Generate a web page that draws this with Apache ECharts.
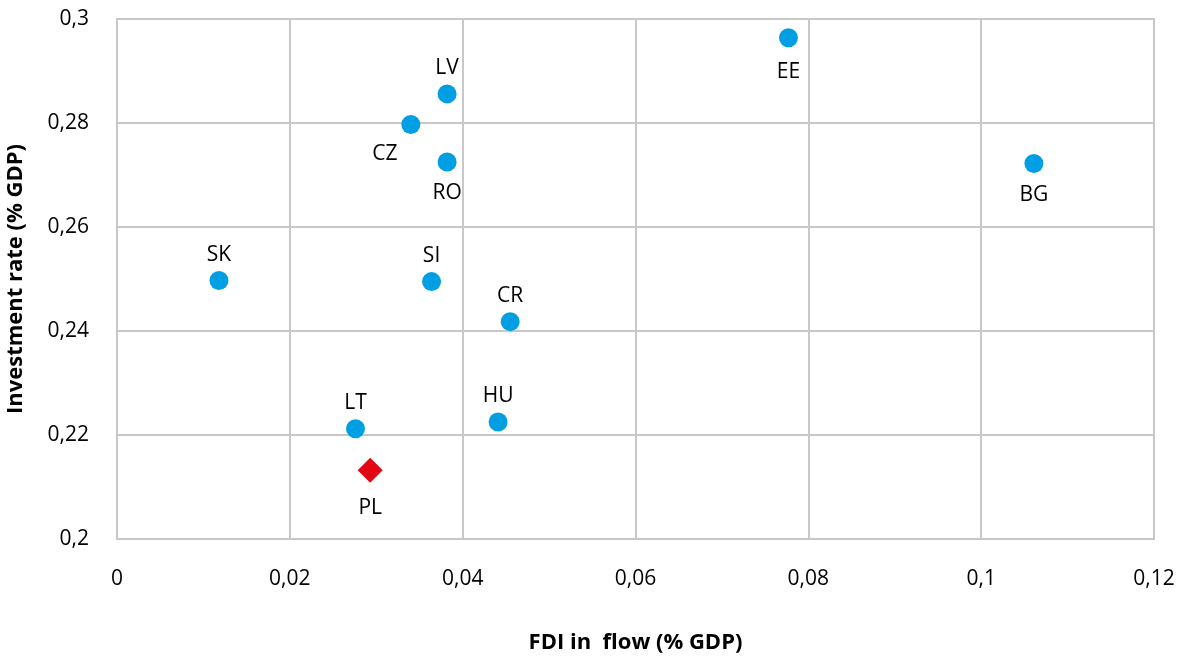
<!DOCTYPE html>
<html>
<head>
<meta charset="utf-8">
<script src="https://cdn.jsdelivr.net/npm/echarts@6/dist/echarts.min.js"></script>
<style>
html,body{margin:0;padding:0;background:#fff;}
#chart{width:1177px;height:658px;}
</style>
</head>
<body>
<div id="chart"></div>
<script>
var countries = ['EE','LV','CZ','RO','BG','SK','SI','CR','LT','HU'];
var fdiInflow = [0.0777,0.0382,0.0340,0.0382,0.1061,0.0118,0.0364,0.0455,0.0276,0.0441];
var investmentRate = [0.2964,0.2856,0.2797,0.2725,0.2722,0.2497,0.2495,0.2418,0.2212,0.2225];
var labelPositions = ['bottom','top','bottom','bottom','bottom','top','top','top','top','top'];
var plCountry = 'PL';
var plFdi = 0.0293;
var plInvestment = 0.2132;
var xTicks = [0,0.02,0.04,0.06,0.08,0.1,0.12];
var yTicks = [0.2,0.22,0.24,0.26,0.28,0.3];

function fmt(v){ return String(+(+v).toFixed(3)).replace('.', ','); }

var font = '"Open Sans", "Noto Sans", sans-serif';

var blueData = countries.map(function(c,i){
  var pos = labelPositions[i];
  var item = {name:c, value:[fdiInflow[i], investmentRate[i]], label:{position:pos, distance: pos === 'bottom' ? 11 : 6}};
  if (c === 'CZ') { item.label.offset = [-26, -2]; }
  if (c === 'EE') { item.label.distance = 14; }
  return item;
});

var chart = echarts.init(document.getElementById('chart'));
chart.setOption({
  animation:false,
  backgroundColor:'#fff',
  grid:{left:117,right:23,top:19,bottom:119,show:true,borderColor:'#c8c8c8',borderWidth:2,containLabel:false,outerBoundsMode:'none'},
  xAxis:{
    type:'value', min:xTicks[0], max:xTicks[xTicks.length-1], interval:0.02,
    name:'FDI in  flow (% GDP)', nameLocation:'middle', nameGap:93,
    nameTextStyle:{fontFamily:font,fontSize:22,fontWeight:'bold',color:'#000'},
    axisLine:{show:true,lineStyle:{color:'#c8c8c8',width:2}},
    axisTick:{show:false},
    splitLine:{show:true,lineStyle:{color:'#c8c8c8',width:2}},
    axisLabel:{formatter:fmt,fontFamily:font,fontSize:21,color:'#000',margin:30}
  },
  yAxis:{
    type:'value', min:yTicks[0], max:yTicks[yTicks.length-1], interval:0.02,
    name:'Investment rate (% GDP)', nameLocation:'middle', nameGap:90,
    nameTextStyle:{fontFamily:font,fontSize:22,fontWeight:'bold',color:'#000'},
    axisLine:{show:true,lineStyle:{color:'#c8c8c8',width:2}},
    axisTick:{show:false},
    splitLine:{show:true,lineStyle:{color:'#c8c8c8',width:2}},
    axisLabel:{formatter:fmt,fontFamily:font,fontSize:21,color:'#000',margin:28}
  },
  series:[
    {
      type:'scatter', symbol:'circle', symbolSize:19,
      itemStyle:{color:'#009FE3',opacity:1},
      label:{show:true,formatter:'{b}',fontFamily:font,fontSize:21,color:'#000',distance:6},
      data:blueData
    },
    {
      type:'scatter', symbol:'diamond', symbolSize:[25,25],
      itemStyle:{color:'#E30613',opacity:1},
      label:{show:true,formatter:'{b}',position:'bottom',fontFamily:font,fontSize:21,color:'#000',distance:15},
      data:[{name:plCountry,value:[plFdi,plInvestment]}]
    }
  ]
});
</script>
</body>
</html>
